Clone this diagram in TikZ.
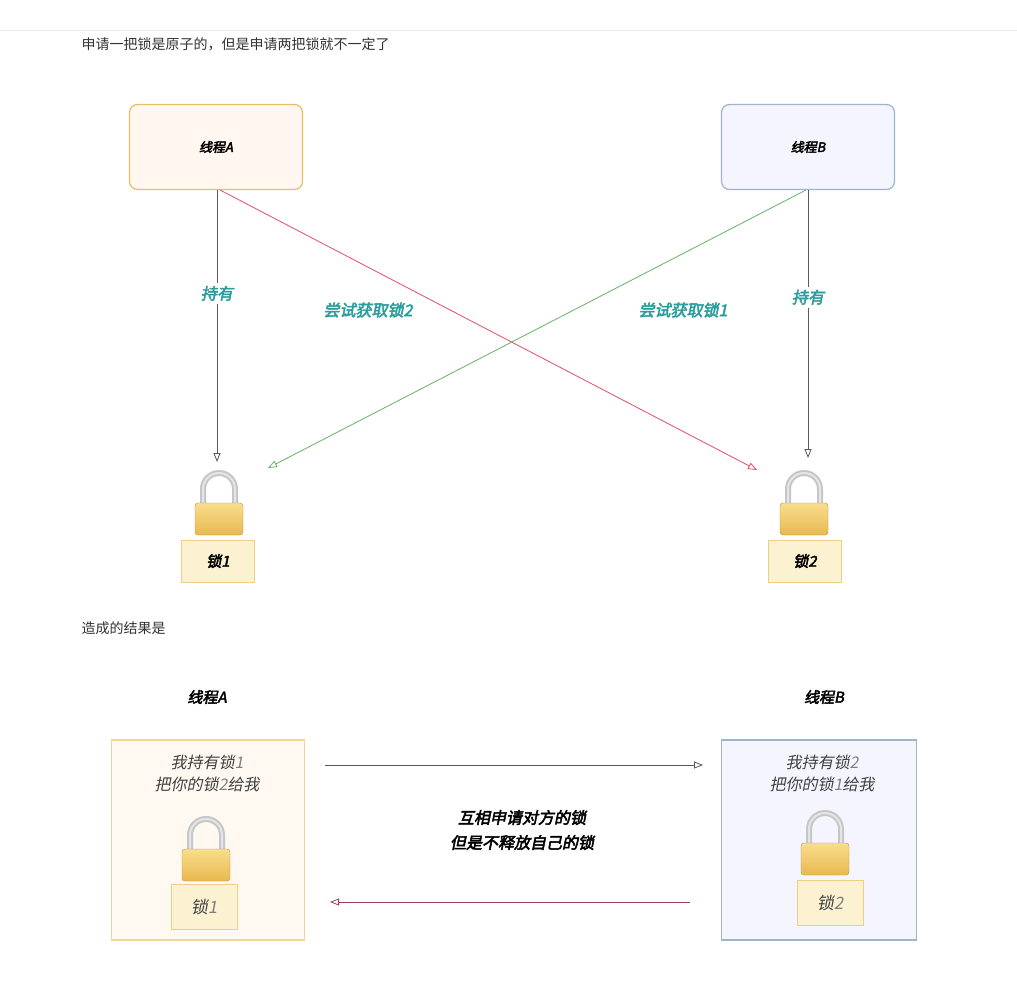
\documentclass[tikz,border=0pt]{standalone}
\usepackage{fontspec}
\newfontfamily\cjk{Noto Sans CJK SC}
\newfontfamily\cjki[FakeSlant=0.2]{Noto Sans CJK SC}
\newfontfamily\cjkb[FakeSlant=0.2,FakeBold=3]{Noto Sans CJK SC}
\usetikzlibrary{arrows.meta,calc}
\definecolor{teal1}{HTML}{2A9D9D}
\definecolor{gold1}{HTML}{E9B850}
\definecolor{gold2}{HTML}{F8DE8C}
\definecolor{bluegray}{HTML}{9FB4C8}
\tikzset{
 thbox/.style={draw, rounded corners=8pt, line width=1.2pt, minimum width=173pt, minimum height=85pt, font=\cjkb\fontsize{13}{13}\selectfont},
 lbl/.style={font=\cjkb\fontsize{16}{16}\selectfont, text=teal1},
 lockname/.style={draw=gold1!70, fill=gold2!40, minimum width=73pt, minimum height=42pt, font=\cjkb\fontsize{15}{15}\selectfont},
 lockname2/.style={draw=gold1!70, fill=gold2!40, minimum width=66pt, minimum height=45pt, font=\cjki\fontsize{17}{17}\selectfont, text=black!75},
 arr/.style={-{Triangle[open,length=9pt,width=7pt]}, line width=0.8pt},
}
\newcommand{\padlock}[1]{%
 \draw[line width=6pt, gray!45] ($(#1)+(-16,6)$) -- ++(0,-14) arc[start angle=180,end angle=360,radius=16] -- ++(0,14);
 \draw[line width=2pt, white!80!gray] ($(#1)+(-16,6)$) -- ++(0,-14) arc[start angle=180,end angle=360,radius=16] -- ++(0,14);
 \shade[top color=gold2, bottom color=gold1, rounded corners=3pt, draw=gold1!80!black] ($(#1)+(-24,6)$) rectangle ($(#1)+(24,38)$);
}
\begin{document}
\begin{tikzpicture}[x=1pt,y=-1pt]
\useasboundingbox[fill=white] (0,0) rectangle (1017,990);
\draw[gray!15] (0,30) -- (1017,30);
\node[anchor=west, font=\cjk\fontsize{14}{14}\selectfont, text=black!80] (t1) at (78,44) {申请一把锁是原子的，但是申请两把锁就不一定了};

\node[thbox, draw=gold1!90, fill=orange!6] (A) at (216,147) {线程A};
\node[thbox, draw=bluegray, fill=blue!4] (B) at (808,147) {线程B};

\coordinate (L1) at (219,497);
\coordinate (L2) at (804,497);
\padlock{L1}
\padlock{L2}
\node[lockname] (n1) at (218,561) {锁1};
\node[lockname] (n2) at (805,561) {锁2};

\coordinate (a1) at (217,462);
\coordinate (b1) at (808,458);
\coordinate (r2) at (757,470);
\coordinate (g1) at (268,468);
\draw[arr, gray!70!black] (217,190) -- (a1) node[pos=0.38, lbl, fill=white] {持有};
\draw[arr, gray!70!black] (808,190) -- (b1) node[pos=0.4, lbl, fill=white] {持有};
\draw[arr, red!40!purple!70] (220,190) -- (r2);
\draw[arr, green!50!black!60] (806,190) -- (g1);
\node[lbl] (l2) at (368,310) {尝试获取锁2};
\node[lbl] (l1) at (683,310) {尝试获取锁1};

\node[anchor=west, font=\cjk\fontsize{14}{14}\selectfont, text=black!80] (t2) at (78,628) {造成的结果是};

\node[font=\cjkb\fontsize{15}{15}\selectfont] (hA) at (207,697) {线程A};
\node[font=\cjkb\fontsize{15}{15}\selectfont] (hB) at (824,697) {线程B};

\node[draw=gold1!60, fill=orange!5, line width=1.2pt, minimum width=193pt, minimum height=200pt] (BA) at (208,840) {};
\node[draw=bluegray, fill=blue!4, line width=1.2pt, minimum width=195pt, minimum height=200pt] (BB) at (819,840) {};
\node[font=\cjki\fontsize{16}{22}\selectfont, text=black!75, align=center] (tA) at (207,773) {我持有锁{\color{gray}1}\\把你的锁{\color{gray}2}给我};
\node[font=\cjki\fontsize{16}{22}\selectfont, text=black!75, align=center] (tB) at (822,773) {我持有锁{\color{gray}2}\\把你的锁{\color{gray}1}给我};
\coordinate (L3) at (206,843);
\coordinate (L4) at (825,837);
\padlock{L3}
\padlock{L4}
\node[lockname2] (n3) at (204,907) {锁{\color{gray}1}};
\node[lockname2] (n4) at (830,903) {锁{\color{gray}2}};

\coordinate (rr) at (703,765);
\coordinate (ll) at (330,902);
\draw[arr, gray!70!black] (325,765) -- (rr);
\draw[arr, purple!50!gray] (690,902) -- (ll);
\node[font=\cjkb\fontsize{16}{25}\selectfont, align=center] (mid) at (522,830) {互相申请对方的锁\\但是不释放自己的锁};
\end{tikzpicture}
\end{document}
